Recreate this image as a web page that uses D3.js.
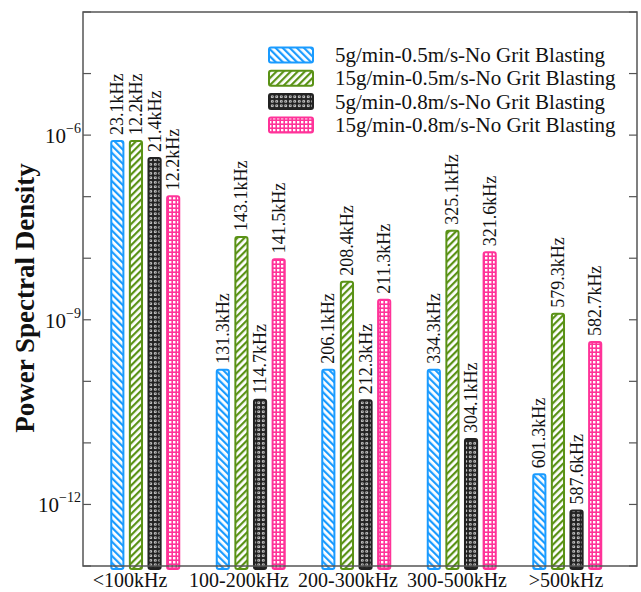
<!DOCTYPE html>
<html>
<head>
<meta charset="utf-8">
<script src="https://cdn.jsdelivr.net/npm/d3@7"></script>
<style>
  body { margin: 0; background: #fff; }
  text { font-family: "Liberation Serif", "Times New Roman", serif; }
</style>
</head>
<body>
<svg id="chart" width="641" height="592"></svg>
<script>
// data
const categories = ['<100kHz', '100-200kHz', '200-300kHz', '300-500kHz', '>500kHz'];
const seriesNames = [
    '5g/min-0.5m/s-No Grit Blasting',
    '15g/min-0.5m/s-No Grit Blasting',
    '5g/min-0.8m/s-No Grit Blasting',
    '15g/min-0.8m/s-No Grit Blasting'
];
const seriesColors = ['#1a9bff', '#5a9216', '#222222', '#ff3399'];
const psd_5g_05 = [8.3e-7, 1.6e-10, 1.6e-10, 1.6e-10, 3.2e-12];
const psd_15g_05 = [8.3e-7, 2.3e-8, 4.3e-9, 2.9e-8, 1.3e-9];
const psd_5g_08 = [4.4e-7, 5.2e-11, 5.1e-11, 1.2e-11, 8.3e-13];
const psd_15g_08 = [1.05e-7, 1.0e-8, 2.2e-9, 1.3e-8, 4.5e-10];
const freq_5g_05 = ['23.1kHz', '131.3kHz', '206.1kHz', '334.3kHz', '601.3kHz'];
const freq_15g_05 = ['12.2kHz', '143.1kHz', '208.4kHz', '325.1kHz', '579.3kHz'];
const freq_5g_08 = ['21.4kHz', '114.7kHz', '212.3kHz', '304.1kHz', '587.6kHz'];
const freq_15g_08 = ['12.2kHz', '141.5kHz', '211.3kHz', '321.6kHz', '582.7kHz'];
const yTickLabels = [-6, -9, -12];

const allValues = [psd_5g_05, psd_15g_05, psd_5g_08, psd_15g_08];
const allFreqs = [freq_5g_05, freq_15g_05, freq_5g_08, freq_15g_08];

const svg = d3.select('#chart');
const plotL = 83, plotR = 637, plotT = 12, plotB = 566;

const y = d3.scaleLog().domain([1e-13, 1e-4]).range([plotB, plotT]);
const x0 = d3.scaleBand().domain(categories).range([92.5, 620]).paddingInner(0).paddingOuter(0);
const x1 = d3.scaleBand().domain(d3.range(4)).range([-35, 35]).paddingInner(0.24);
const xLabel = d3.scalePoint().domain(categories).range([130, 566]);

// hatch patterns
const defs = svg.append('defs');
function stripes(id, color, angle) {
    const p = defs.append('pattern').attr('id', id).attr('patternUnits', 'userSpaceOnUse')
        .attr('width', 5).attr('height', 5).attr('patternTransform', `rotate(${angle})`);
    p.append('rect').attr('width', 5).attr('height', 5).attr('fill', '#fff');
    p.append('rect').attr('width', 2.2).attr('height', 5).attr('fill', color);
}
stripes('pat0', seriesColors[0], -45);
stripes('pat1', seriesColors[1], 45);
{
    const p = defs.append('pattern').attr('id', 'pat2').attr('patternUnits', 'userSpaceOnUse')
        .attr('width', 4.5).attr('height', 4.5);
    p.append('rect').attr('width', 4.5).attr('height', 4.5).attr('fill', seriesColors[2]);
    p.append('circle').attr('cx', 2.25).attr('cy', 2.25).attr('r', 1.4).attr('fill', '#fff');
    p.append('circle').attr('cx', 2.25).attr('cy', 2.25).attr('r', 0.6).attr('fill', seriesColors[2]);
}
{
    const p = defs.append('pattern').attr('id', 'pat3').attr('patternUnits', 'userSpaceOnUse')
        .attr('width', 4).attr('height', 4);
    p.append('rect').attr('width', 4).attr('height', 4).attr('fill', seriesColors[3]);
    p.append('rect').attr('x', 1).attr('y', 1).attr('width', 2.4).attr('height', 2.4).attr('fill', '#fff');
}

// bars
const barW = x1.bandwidth();
allValues.forEach(function(vals, s) {
    const g = svg.append('g');
    categories.forEach(function(cat, i) {
        const cx = x0(cat) + x0.bandwidth() / 2 + x1(s);
        const yt = y(vals[i]);
        g.append('rect')
            .attr('x', cx + 1).attr('y', yt + 1)
            .attr('width', barW - 2).attr('height', plotB - yt + 2)
            .attr('rx', 2)
            .attr('fill', `url(#pat${s})`)
            .attr('stroke', seriesColors[s]).attr('stroke-width', 2);
        g.append('text')
            .attr('transform', `translate(${cx + barW / 2 + 6},${yt - 5}) rotate(-90)`)
            .attr('font-size', 18).attr('fill', '#111')
            .text(allFreqs[s][i]);
    });
});

// frame
svg.append('rect').attr('x', plotL).attr('y', plotT).attr('width', plotR - plotL).attr('height', plotB - plotT)
    .attr('fill', 'none').attr('stroke', '#555').attr('stroke-width', 1.5);

// y ticks on both sides
const decades = d3.range(-13, -3);
decades.forEach(function(e) {
    const yy = y(Math.pow(10, e));
    svg.append('line').attr('x1', plotL).attr('x2', plotL + 8).attr('y1', yy).attr('y2', yy)
        .attr('stroke', '#555').attr('stroke-width', 1.2);
    svg.append('line').attr('x1', plotR - 8).attr('x2', plotR).attr('y1', yy).attr('y2', yy)
        .attr('stroke', '#555').attr('stroke-width', 1.2);
});
yTickLabels.forEach(function(e) {
    const t = svg.append('text').attr('x', 81).attr('y', y(Math.pow(10, e)) + 8)
        .attr('text-anchor', 'end').attr('font-size', 21).attr('fill', '#111');
    t.append('tspan').text('10');
    t.append('tspan').attr('dy', -10).attr('font-size', 14).text('\u2212' + (-e));
});

// x labels
categories.forEach(function(cat) {
    svg.append('text').attr('x', xLabel(cat)).attr('y', 587)
        .attr('text-anchor', 'middle').attr('font-size', 20).attr('fill', '#111').text(cat);
});

// y title
svg.append('text').attr('transform', 'translate(34,298) rotate(-90)')
    .attr('text-anchor', 'middle').attr('font-size', 27).attr('font-weight', 'bold')
    .attr('fill', '#111').text('Power Spectral Density');

// legend
seriesNames.forEach(function(name, s) {
    const ly = 55 + s * 23.3;
    svg.append('rect').attr('x', 269).attr('y', ly - 7.5).attr('width', 44).attr('height', 15)
        .attr('rx', 2).attr('fill', `url(#pat${s})`)
        .attr('stroke', seriesColors[s]).attr('stroke-width', 2);
    svg.append('text').attr('x', 335).attr('y', ly + 7).attr('font-size', 21)
        .attr('fill', '#111').text(name);
});
</script>
</body>
</html>
